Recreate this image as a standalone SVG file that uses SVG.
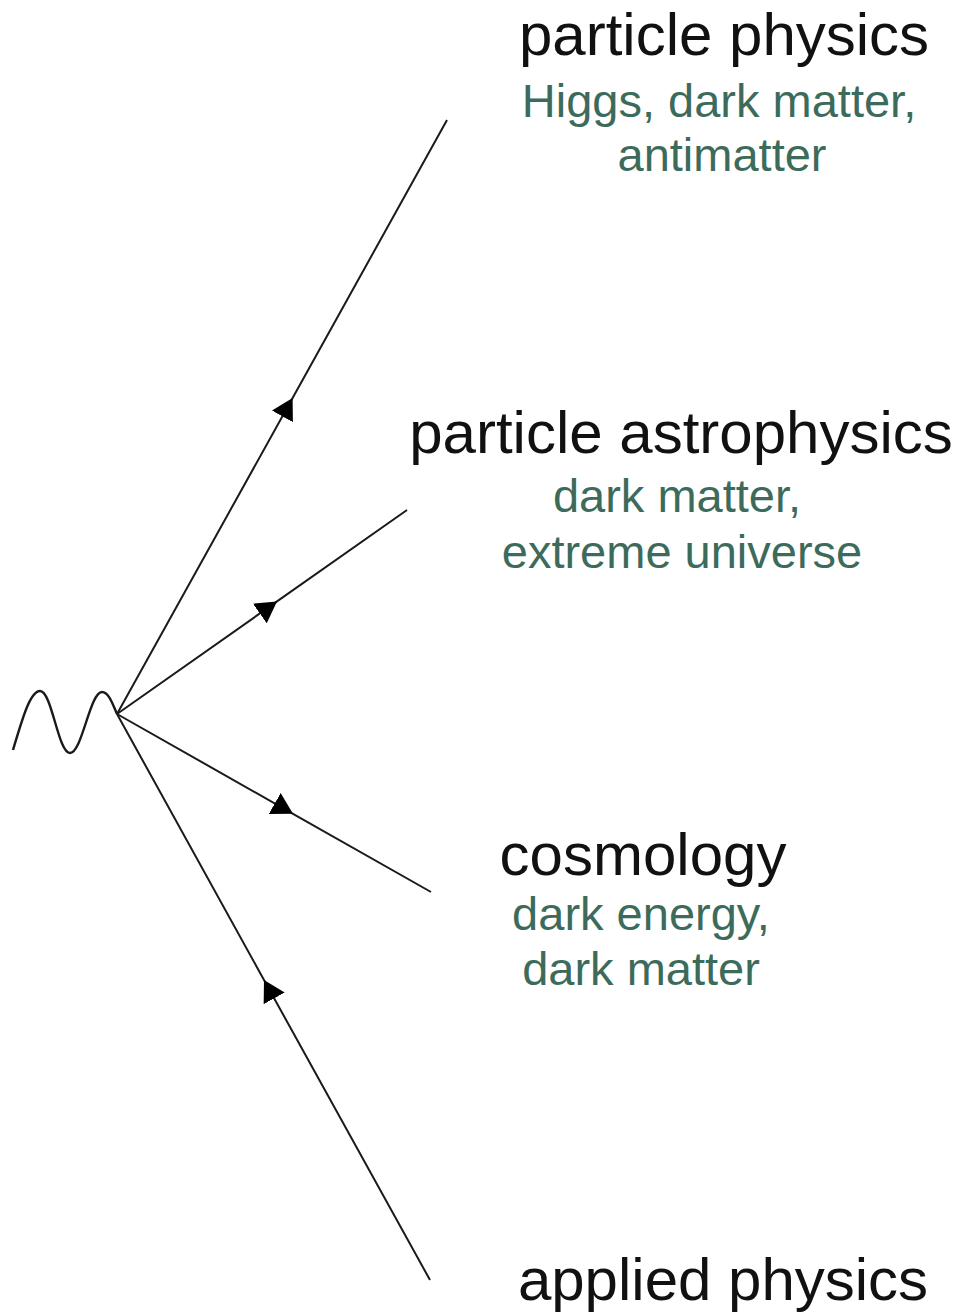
<svg xmlns="http://www.w3.org/2000/svg" width="961" height="1315" viewBox="0 0 961 1315">
  <style>
    .title { font-family: "Liberation Sans", Arial, sans-serif; font-size: 60px; fill: #111; text-anchor: middle; }
    .sub { font-family: "Liberation Sans", Arial, sans-serif; font-size: 47px; fill: #3d6b5b; text-anchor: middle; }
    .line { fill: none; stroke: #1a1a1a; stroke-width: 2; marker-mid: url(#arr); }
    .wave { fill: none; stroke: #1a1a1a; stroke-width: 2.4; }
  </style>
  <defs>
    <marker id="arr" markerUnits="userSpaceOnUse" markerWidth="21" markerHeight="24" refX="21" refY="12" orient="auto" viewBox="0 0 21 24">
      <path d="M0,0 L21,12 L0,24 Z" fill="#000"/>
    </marker>
  </defs>
  <rect width="961" height="1315" fill="#fff"/>
  <g id="connectors">
    <path class="line" d="M117,714 L292.6,398 L447,120"/>
    <path class="line" d="M117,714 L277,601.4 L407,510"/>
    <path class="line" d="M117,714 L293,813.8 L431,892"/>
    <path class="line" d="M430,1280 L264,980 L117,714"/>
  </g>
  <g id="photon">
    <path class="wave" d="M13,750 C22,720 30,691 40,691 C52,691 58,753 70,753 C82,753 90,692 102,692 C109,692 113,705 117,714"/>
  </g>
  <g id="particle-physics">
    <text class="title" x="724" y="55">particle physics</text>
    <text class="sub" x="719" y="117">Higgs, dark matter,</text>
    <text class="sub" x="722" y="171">antimatter</text>
  </g>
  <g id="particle-astrophysics">
    <text class="title" x="681" y="453">particle astrophysics</text>
    <text class="sub" x="677" y="512">dark matter,</text>
    <text class="sub" x="682" y="568">extreme universe</text>
  </g>
  <g id="cosmology">
    <text class="title" x="643" y="875">cosmology</text>
    <text class="sub" x="641" y="930">dark energy,</text>
    <text class="sub" x="641" y="985">dark matter</text>
  </g>
  <g id="applied-physics">
    <text class="title" x="723" y="1300">applied physics</text>
  </g>
</svg>
